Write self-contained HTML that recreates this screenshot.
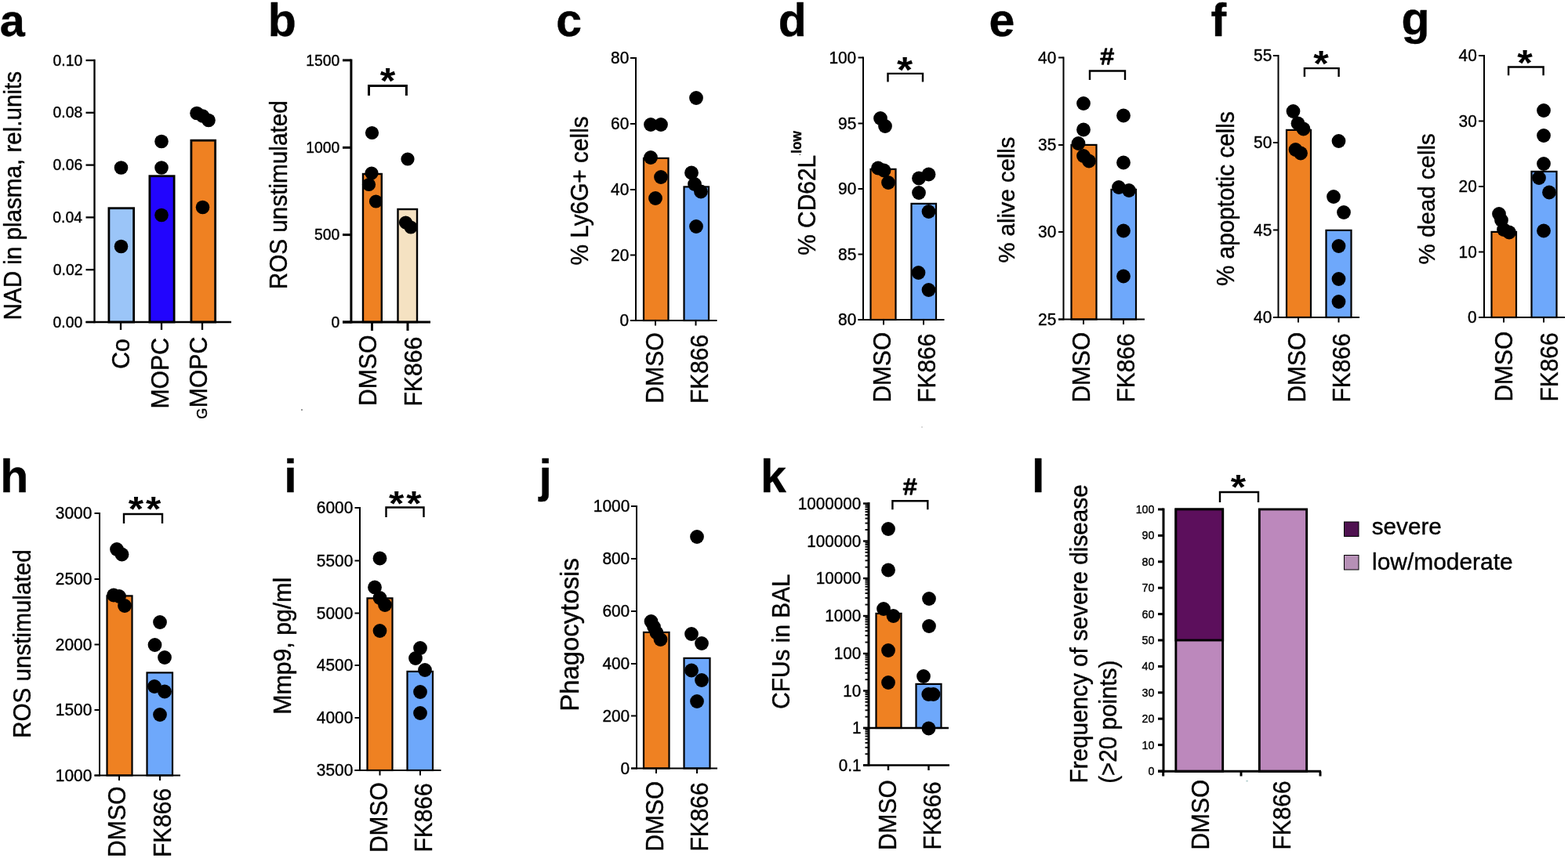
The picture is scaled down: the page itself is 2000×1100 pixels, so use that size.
<!DOCTYPE html>
<html lang="en"><head><meta charset="utf-8"><title>Figure</title>
<style>html,body{margin:0;padding:0;background:#fff}body{width:2000px;height:1100px;overflow:hidden}svg{display:block;filter:blur(0.45px)}text{stroke:#000;stroke-width:.4px;stroke-linejoin:round}</style>
</head><body>
<svg width="2000" height="1100" viewBox="0 0 2000 1100" font-family="&quot;Liberation Sans&quot;, sans-serif" fill="#000">
<rect x="138.9" y="265.7" width="31.7" height="145.3" fill="#9bc5f8" stroke="#000" stroke-width="2.8"/>
<rect x="190.9" y="224.7" width="31.2" height="186.3" fill="#2205fd" stroke="#000" stroke-width="2.8"/>
<rect x="243.9" y="179.2" width="30.7" height="231.8" fill="#ef8122" stroke="#000" stroke-width="2.8"/>
<path d="M120.5 75.85L120.5 412.15" stroke="#000" stroke-width="2.3" fill="none"/>
<path d="M109.5 411L295 411" stroke="#000" stroke-width="2.3" fill="none"/>
<path d="M109.5 77L120.5 77" stroke="#000" stroke-width="2.3" fill="none"/>
<text transform="translate(105.15 83.64) scale(0.955 1)" font-size="20.27" text-anchor="end">0.10</text>
<path d="M109.5 143.8L120.5 143.8" stroke="#000" stroke-width="2.3" fill="none"/>
<text transform="translate(105.25 150.44) scale(0.955 1)" font-size="20.27" text-anchor="end">0.08</text>
<path d="M109.5 210.6L120.5 210.6" stroke="#000" stroke-width="2.3" fill="none"/>
<text transform="translate(105.25 217.24) scale(0.955 1)" font-size="20.27" text-anchor="end">0.06</text>
<path d="M109.5 277.4L120.5 277.4" stroke="#000" stroke-width="2.3" fill="none"/>
<text transform="translate(104.96 284.04) scale(0.955 1)" font-size="20.27" text-anchor="end">0.04</text>
<path d="M109.5 344.2L120.5 344.2" stroke="#000" stroke-width="2.3" fill="none"/>
<text transform="translate(105.39 350.84) scale(0.955 1)" font-size="20.27" text-anchor="end">0.02</text>
<path d="M109.5 411L120.5 411" stroke="#000" stroke-width="2.3" fill="none"/>
<text transform="translate(105.15 417.64) scale(0.955 1)" font-size="20.27" text-anchor="end">0.00</text>
<path d="M154 411L154 421" stroke="#000" stroke-width="2.3" fill="none"/>
<path d="M206 411L206 421" stroke="#000" stroke-width="2.3" fill="none"/>
<path d="M258 411L258 421" stroke="#000" stroke-width="2.3" fill="none"/>
<circle cx="154.5" cy="214" r="8.8"/>
<circle cx="154.5" cy="314.5" r="8.8"/>
<circle cx="206" cy="180.5" r="8.8"/>
<circle cx="206" cy="214" r="8.8"/>
<circle cx="206" cy="274.5" r="8.8"/>
<circle cx="251" cy="144.5" r="8.8"/>
<circle cx="258.5" cy="148" r="8.8"/>
<circle cx="266" cy="153.5" r="8.8"/>
<circle cx="258.5" cy="264.5" r="8.8"/>
<text transform="translate(164.6 470.8) rotate(-90) scale(0.98 1)" font-size="30.8">Co</text>
<text transform="translate(215.2 521.6) rotate(-90) scale(0.98 1)" font-size="30.8">MOPC</text>
<text transform="translate(263.6 520.29) rotate(-90) scale(0.98 1)" font-size="30.8">MOPC</text>
<text transform="translate(26.8 408.43) rotate(-90) scale(0.97 1)" font-size="30.53">NAD in plasma, rel.units</text>
<text x="-0.16" y="46.2" font-size="57.5" font-weight="bold">a</text>
<rect x="463" y="222" width="23.8" height="189" fill="#ef8122" stroke="#000" stroke-width="2.4"/>
<rect x="507.5" y="267" width="24.5" height="144" fill="#f5e2c2" stroke="#000" stroke-width="2.4"/>
<path d="M447.9 75.4L447.9 412.5" stroke="#000" stroke-width="3" fill="none"/>
<path d="M437 411L549 411" stroke="#000" stroke-width="3" fill="none"/>
<path d="M437 76.9L447.9 76.9" stroke="#000" stroke-width="3" fill="none"/>
<text transform="translate(433.17 83.54) scale(0.955 1)" font-size="20.27" text-anchor="end">1500</text>
<path d="M437 188.3L447.9 188.3" stroke="#000" stroke-width="3" fill="none"/>
<text transform="translate(433.17 194.94) scale(0.955 1)" font-size="20.27" text-anchor="end">1000</text>
<path d="M437 299.6L447.9 299.6" stroke="#000" stroke-width="3" fill="none"/>
<text transform="translate(433.14 306.24) scale(0.955 1)" font-size="20.27" text-anchor="end">500</text>
<path d="M437 411L447.9 411" stroke="#000" stroke-width="3" fill="none"/>
<text transform="translate(433.15 417.64) scale(0.955 1)" font-size="20.27" text-anchor="end">0</text>
<path d="M474.5 411L474.5 422" stroke="#000" stroke-width="3" fill="none"/>
<path d="M520 411L520 422" stroke="#000" stroke-width="3" fill="none"/>
<path d="M470.5 122L470.5 109.4L518.4 109.4L518.4 122" stroke="#000" stroke-width="3" fill="none"/>
<text transform="translate(494.6 118.98) scale(1.1 1)" font-size="45.64" text-anchor="middle" font-weight="bold" style="stroke-width:0">*</text>
<circle cx="474.5" cy="169.5" r="8.6"/>
<circle cx="520" cy="203" r="8.6"/>
<circle cx="474" cy="221" r="8.6"/>
<circle cx="470.5" cy="235.5" r="8.6"/>
<circle cx="479.5" cy="257" r="8.6"/>
<circle cx="517.5" cy="284" r="8.6"/>
<circle cx="524" cy="290" r="8.6"/>
<text transform="translate(480.4 518.08) rotate(-90) scale(0.98 1)" font-size="30.8">DMSO</text>
<text transform="translate(537.6 518.58) rotate(-90) scale(0.98 1)" font-size="30.8">FK866</text>
<text transform="translate(366.2 369.24) rotate(-90) scale(0.97 1)" font-size="30.62">ROS unstimulated</text>
<text x="341.77" y="46.2" font-size="59" font-weight="bold">b</text>
<rect x="821" y="201.9" width="31.5" height="207.1" fill="#ef8122" stroke="#000" stroke-width="2.2"/>
<rect x="872.5" y="238.4" width="31.5" height="170.6" fill="#6ea8fb" stroke="#000" stroke-width="2.2"/>
<path d="M811 73L811 410" stroke="#000" stroke-width="2" fill="none"/>
<path d="M804 409L914.5 409" stroke="#000" stroke-width="2" fill="none"/>
<path d="M804 74L811 74" stroke="#000" stroke-width="2" fill="none"/>
<text transform="translate(802.23 81.16) scale(0.955 1)" font-size="21.84" text-anchor="end">80</text>
<path d="M804 158L811 158" stroke="#000" stroke-width="2" fill="none"/>
<text transform="translate(802.23 165.16) scale(0.955 1)" font-size="21.84" text-anchor="end">60</text>
<path d="M804 242L811 242" stroke="#000" stroke-width="2" fill="none"/>
<text transform="translate(802.23 249.16) scale(0.955 1)" font-size="21.84" text-anchor="end">40</text>
<path d="M804 325.5L811 325.5" stroke="#000" stroke-width="2" fill="none"/>
<text transform="translate(802.23 332.66) scale(0.955 1)" font-size="21.84" text-anchor="end">20</text>
<path d="M804 409L811 409" stroke="#000" stroke-width="2" fill="none"/>
<text transform="translate(802.2 416.16) scale(0.955 1)" font-size="21.84" text-anchor="end">0</text>
<path d="M836 409L836 415.5" stroke="#000" stroke-width="2" fill="none"/>
<path d="M887.5 409L887.5 415.5" stroke="#000" stroke-width="2" fill="none"/>
<circle cx="830" cy="159" r="8.9"/>
<circle cx="843" cy="159" r="8.9"/>
<circle cx="830" cy="201" r="8.9"/>
<circle cx="843" cy="226" r="8.9"/>
<circle cx="836" cy="253" r="8.9"/>
<circle cx="888" cy="125" r="8.9"/>
<circle cx="882" cy="220.5" r="8.9"/>
<circle cx="886" cy="235" r="8.9"/>
<circle cx="894" cy="244.5" r="8.9"/>
<circle cx="888" cy="289" r="8.9"/>
<text transform="translate(846.1 514.78) rotate(-90) scale(0.98 1)" font-size="30.8">DMSO</text>
<text transform="translate(902.9 514.97) rotate(-90) scale(0.97 1)" font-size="30.8">FK866</text>
<text transform="translate(750.1 338.54) rotate(-90) scale(0.97 1)" font-size="30.74">% Ly6G+ cells</text>
<text x="709.26" y="46.2" font-size="59" font-weight="bold">c</text>
<rect x="1110.5" y="215.9" width="32" height="192.1" fill="#ef8122" stroke="#000" stroke-width="2.2"/>
<rect x="1162.5" y="259.9" width="31.5" height="148.1" fill="#6ea8fb" stroke="#000" stroke-width="2.2"/>
<path d="M1101 72.5L1101 409" stroke="#000" stroke-width="2" fill="none"/>
<path d="M1094.5 408L1204.5 408" stroke="#000" stroke-width="2" fill="none"/>
<path d="M1094.5 73.5L1101 73.5" stroke="#000" stroke-width="2" fill="none"/>
<text transform="translate(1092.2 80.66) scale(0.955 1)" font-size="21.84" text-anchor="end">100</text>
<path d="M1094.5 157.5L1101 157.5" stroke="#000" stroke-width="2" fill="none"/>
<text transform="translate(1092.28 164.66) scale(0.955 1)" font-size="21.84" text-anchor="end">95</text>
<path d="M1094.5 241L1101 241" stroke="#000" stroke-width="2" fill="none"/>
<text transform="translate(1092.23 248.16) scale(0.955 1)" font-size="21.84" text-anchor="end">90</text>
<path d="M1094.5 324.5L1101 324.5" stroke="#000" stroke-width="2" fill="none"/>
<text transform="translate(1092.28 331.66) scale(0.955 1)" font-size="21.84" text-anchor="end">85</text>
<path d="M1094.5 408L1101 408" stroke="#000" stroke-width="2" fill="none"/>
<text transform="translate(1092.23 415.16) scale(0.955 1)" font-size="21.84" text-anchor="end">80</text>
<path d="M1127 408L1127 414.5" stroke="#000" stroke-width="2" fill="none"/>
<path d="M1178 408L1178 414.5" stroke="#000" stroke-width="2" fill="none"/>
<path d="M1132.5 104.6L1132.5 93.9L1177 93.9L1177 104.6" stroke="#000" stroke-width="2.4" fill="none"/>
<text transform="translate(1154 105.4) scale(1.1 1)" font-size="46.98" text-anchor="middle" font-weight="bold" style="stroke-width:0">*</text>
<circle cx="1123" cy="151" r="8.9"/>
<circle cx="1129" cy="161" r="8.9"/>
<circle cx="1120" cy="214.5" r="8.9"/>
<circle cx="1127.5" cy="217.5" r="8.9"/>
<circle cx="1133" cy="233" r="8.9"/>
<circle cx="1184.5" cy="222.5" r="8.9"/>
<circle cx="1172" cy="227.5" r="8.9"/>
<circle cx="1172" cy="246" r="8.9"/>
<circle cx="1184.5" cy="270" r="8.9"/>
<circle cx="1171.5" cy="348" r="8.9"/>
<circle cx="1184.5" cy="370" r="8.9"/>
<text transform="translate(1136.1 513.48) rotate(-90) scale(0.97 1)" font-size="30.8">DMSO</text>
<text transform="translate(1192.9 513.67) rotate(-90) scale(0.97 1)" font-size="30.8">FK866</text>
<text transform="translate(1039.7 325.84) rotate(-90) scale(0.97 1)" font-size="30.84">% CD62L</text>
<text x="992.74" y="46.2" font-size="59" font-weight="bold">d</text>
<rect x="1366.5" y="184.9" width="32" height="222.6" fill="#ef8122" stroke="#000" stroke-width="2.2"/>
<rect x="1417.5" y="241.9" width="31.5" height="165.6" fill="#6ea8fb" stroke="#000" stroke-width="2.2"/>
<path d="M1356.5 72.5L1356.5 408.5" stroke="#000" stroke-width="2" fill="none"/>
<path d="M1350 407.5L1460 407.5" stroke="#000" stroke-width="2" fill="none"/>
<path d="M1350 73.5L1356.5 73.5" stroke="#000" stroke-width="2" fill="none"/>
<text transform="translate(1347.23 80.66) scale(0.955 1)" font-size="21.84" text-anchor="end">40</text>
<path d="M1350 185L1356.5 185" stroke="#000" stroke-width="2" fill="none"/>
<text transform="translate(1347.28 192.16) scale(0.955 1)" font-size="21.84" text-anchor="end">35</text>
<path d="M1350 296L1356.5 296" stroke="#000" stroke-width="2" fill="none"/>
<text transform="translate(1347.23 303.16) scale(0.955 1)" font-size="21.84" text-anchor="end">30</text>
<path d="M1350 407.5L1356.5 407.5" stroke="#000" stroke-width="2" fill="none"/>
<text transform="translate(1347.28 414.66) scale(0.955 1)" font-size="21.84" text-anchor="end">25</text>
<path d="M1382 407.5L1382 414" stroke="#000" stroke-width="2" fill="none"/>
<path d="M1433 407.5L1433 414" stroke="#000" stroke-width="2" fill="none"/>
<path d="M1390 102L1390 90.5L1435 90.5L1435 102" stroke="#000" stroke-width="2.4" fill="none"/>
<text x="1403.84" y="82.4" font-size="30.36" style="stroke-width:1.4px">#</text>
<circle cx="1382" cy="132" r="8.9"/>
<circle cx="1382" cy="165.5" r="8.9"/>
<circle cx="1375.5" cy="183" r="8.9"/>
<circle cx="1382" cy="199" r="8.9"/>
<circle cx="1389" cy="205.5" r="8.9"/>
<circle cx="1433" cy="147.5" r="8.9"/>
<circle cx="1433" cy="207.5" r="8.9"/>
<circle cx="1427" cy="239" r="8.9"/>
<circle cx="1440" cy="243" r="8.9"/>
<circle cx="1433" cy="294.5" r="8.9"/>
<circle cx="1433" cy="352.5" r="8.9"/>
<text transform="translate(1389.5 513.47) rotate(-90) scale(0.97 1)" font-size="30.8">DMSO</text>
<text transform="translate(1447 513.46) rotate(-90) scale(0.97 1)" font-size="30.8">FK866</text>
<text transform="translate(1294.4 335.52) rotate(-90) scale(0.97 1)" font-size="30.16">% alive cells</text>
<text x="1261.41" y="46.2" font-size="59" font-weight="bold">e</text>
<rect x="1641" y="165.9" width="31" height="239.1" fill="#ef8122" stroke="#000" stroke-width="2.2"/>
<rect x="1691.5" y="293.9" width="32" height="111.1" fill="#6ea8fb" stroke="#000" stroke-width="2.2"/>
<path d="M1630.5 70L1630.5 406" stroke="#000" stroke-width="2" fill="none"/>
<path d="M1624 405L1734 405" stroke="#000" stroke-width="2" fill="none"/>
<path d="M1624 71L1630.5 71" stroke="#000" stroke-width="2" fill="none"/>
<text transform="translate(1622.28 78.16) scale(0.955 1)" font-size="21.84" text-anchor="end">55</text>
<path d="M1624 182L1630.5 182" stroke="#000" stroke-width="2" fill="none"/>
<text transform="translate(1622.23 189.16) scale(0.955 1)" font-size="21.84" text-anchor="end">50</text>
<path d="M1624 293.5L1630.5 293.5" stroke="#000" stroke-width="2" fill="none"/>
<text transform="translate(1622.28 300.66) scale(0.955 1)" font-size="21.84" text-anchor="end">45</text>
<path d="M1624 405L1630.5 405" stroke="#000" stroke-width="2" fill="none"/>
<text transform="translate(1622.23 412.16) scale(0.955 1)" font-size="21.84" text-anchor="end">40</text>
<path d="M1656 405L1656 411.5" stroke="#000" stroke-width="2" fill="none"/>
<path d="M1707.5 405L1707.5 411.5" stroke="#000" stroke-width="2" fill="none"/>
<path d="M1663.9 98L1663.9 87.1L1707.6 87.1L1707.6 98" stroke="#000" stroke-width="2.4" fill="none"/>
<text transform="translate(1685 97.28) scale(1.1 1)" font-size="45.64" text-anchor="middle" font-weight="bold" style="stroke-width:0">*</text>
<circle cx="1649.5" cy="142" r="8.9"/>
<circle cx="1655.5" cy="157.5" r="8.9"/>
<circle cx="1662.5" cy="164.5" r="8.9"/>
<circle cx="1652.5" cy="191" r="8.9"/>
<circle cx="1659" cy="195.5" r="8.9"/>
<circle cx="1707.5" cy="180" r="8.9"/>
<circle cx="1701" cy="251" r="8.9"/>
<circle cx="1714" cy="271" r="8.9"/>
<circle cx="1707.5" cy="314" r="8.9"/>
<circle cx="1707.5" cy="356" r="8.9"/>
<circle cx="1707.5" cy="385" r="8.9"/>
<text transform="translate(1664.5 513.47) rotate(-90) scale(0.97 1)" font-size="30.8">DMSO</text>
<text transform="translate(1722 513.46) rotate(-90) scale(0.97 1)" font-size="30.8">FK866</text>
<text transform="translate(1573.6 365.04) rotate(-90) scale(0.97 1)" font-size="30.63">% apoptotic cells</text>
<text x="1544.6" y="46.2" font-size="59" font-weight="bold">f</text>
<rect x="1902.5" y="295.9" width="31.5" height="109.1" fill="#ef8122" stroke="#000" stroke-width="2.2"/>
<rect x="1953.5" y="218.9" width="32" height="186.1" fill="#6ea8fb" stroke="#000" stroke-width="2.2"/>
<path d="M1893 70L1893 406" stroke="#000" stroke-width="2" fill="none"/>
<path d="M1886 405L1996 405" stroke="#000" stroke-width="2" fill="none"/>
<path d="M1886 71L1893 71" stroke="#000" stroke-width="2" fill="none"/>
<text transform="translate(1883.73 78.16) scale(0.955 1)" font-size="21.84" text-anchor="end">40</text>
<path d="M1886 154.5L1893 154.5" stroke="#000" stroke-width="2" fill="none"/>
<text transform="translate(1883.73 161.66) scale(0.955 1)" font-size="21.84" text-anchor="end">30</text>
<path d="M1886 238L1893 238" stroke="#000" stroke-width="2" fill="none"/>
<text transform="translate(1883.73 245.16) scale(0.955 1)" font-size="21.84" text-anchor="end">20</text>
<path d="M1886 321.5L1893 321.5" stroke="#000" stroke-width="2" fill="none"/>
<text transform="translate(1883.73 328.66) scale(0.955 1)" font-size="21.84" text-anchor="end">10</text>
<path d="M1886 405L1893 405" stroke="#000" stroke-width="2" fill="none"/>
<text transform="translate(1883.7 412.16) scale(0.955 1)" font-size="21.84" text-anchor="end">0</text>
<path d="M1918 405L1918 411.5" stroke="#000" stroke-width="2" fill="none"/>
<path d="M1969 405L1969 411.5" stroke="#000" stroke-width="2" fill="none"/>
<path d="M1924.1 96.3L1924.1 85.5L1968.6 85.5L1968.6 96.3" stroke="#000" stroke-width="2.4" fill="none"/>
<text transform="translate(1945 95.98) scale(1.1 1)" font-size="45.64" text-anchor="middle" font-weight="bold" style="stroke-width:0">*</text>
<circle cx="1912" cy="273" r="8.9"/>
<circle cx="1915" cy="281" r="8.9"/>
<circle cx="1918" cy="293" r="8.9"/>
<circle cx="1925" cy="296.5" r="8.9"/>
<circle cx="1969" cy="141" r="8.9"/>
<circle cx="1969" cy="173" r="8.9"/>
<circle cx="1969" cy="209" r="8.9"/>
<circle cx="1963" cy="227" r="8.9"/>
<circle cx="1976" cy="245.5" r="8.9"/>
<circle cx="1969" cy="294.5" r="8.9"/>
<text transform="translate(1929 512.46) rotate(-90) scale(0.97 1)" font-size="30.8">DMSO</text>
<text transform="translate(1986.5 512.46) rotate(-90) scale(0.97 1)" font-size="30.8">FK866</text>
<text transform="translate(1829.7 337.43) rotate(-90) scale(0.97 1)" font-size="30.42">% dead cells</text>
<text x="1787.49" y="44.2" font-size="59" font-weight="bold">g</text>
<rect x="136.5" y="760.4" width="32" height="229.1" fill="#ef8122" stroke="#000" stroke-width="2.2"/>
<rect x="187.5" y="858.4" width="32.5" height="131.1" fill="#6ea8fb" stroke="#000" stroke-width="2.2"/>
<path d="M127 654L127 990.5" stroke="#000" stroke-width="2" fill="none"/>
<path d="M120.5 989.5L230 989.5" stroke="#000" stroke-width="2" fill="none"/>
<path d="M120.5 655L127 655" stroke="#000" stroke-width="2" fill="none"/>
<text transform="translate(117.23 662.16) scale(0.955 1)" font-size="21.84" text-anchor="end">3000</text>
<path d="M120.5 739L127 739" stroke="#000" stroke-width="2" fill="none"/>
<text transform="translate(117.23 746.16) scale(0.955 1)" font-size="21.84" text-anchor="end">2500</text>
<path d="M120.5 822.5L127 822.5" stroke="#000" stroke-width="2" fill="none"/>
<text transform="translate(117.23 829.66) scale(0.955 1)" font-size="21.84" text-anchor="end">2000</text>
<path d="M120.5 906L127 906" stroke="#000" stroke-width="2" fill="none"/>
<text transform="translate(117.23 913.16) scale(0.955 1)" font-size="21.84" text-anchor="end">1500</text>
<path d="M120.5 989.5L127 989.5" stroke="#000" stroke-width="2" fill="none"/>
<text transform="translate(117.23 996.66) scale(0.955 1)" font-size="21.84" text-anchor="end">1000</text>
<path d="M152 989.5L152 996" stroke="#000" stroke-width="2" fill="none"/>
<path d="M204 989.5L204 996" stroke="#000" stroke-width="2" fill="none"/>
<path d="M158 668L158 656L207 656L207 668" stroke="#000" stroke-width="2.4" fill="none"/>
<text transform="translate(173.35 664.81) scale(1.1 1)" font-size="45.1" text-anchor="middle" font-weight="bold" style="stroke-width:0">*</text>
<text transform="translate(195.65 664.81) scale(1.1 1)" font-size="45.1" text-anchor="middle" font-weight="bold" style="stroke-width:0">*</text>
<circle cx="149" cy="701" r="8.9"/>
<circle cx="155.5" cy="707.5" r="8.9"/>
<circle cx="145" cy="759.5" r="8.9"/>
<circle cx="152" cy="761" r="8.9"/>
<circle cx="159" cy="773" r="8.9"/>
<circle cx="204" cy="794" r="8.9"/>
<circle cx="197.5" cy="823" r="8.9"/>
<circle cx="210" cy="839" r="8.9"/>
<circle cx="197" cy="876" r="8.9"/>
<circle cx="210" cy="882.5" r="8.9"/>
<circle cx="204" cy="912" r="8.9"/>
<text transform="translate(160 1093.99) rotate(-90) scale(0.98 1)" font-size="30.8">DMSO</text>
<text transform="translate(217.8 1093.96) rotate(-90) scale(0.97 1)" font-size="30.8">FK866</text>
<text transform="translate(38.5 942.04) rotate(-90) scale(0.97 1)" font-size="30.6">ROS unstimulated</text>
<text x="0.21" y="628" font-size="59" font-weight="bold">h</text>
<rect x="468.5" y="763.4" width="32" height="219.6" fill="#ef8122" stroke="#000" stroke-width="2.2"/>
<rect x="519.5" y="856.9" width="32.5" height="126.1" fill="#6ea8fb" stroke="#000" stroke-width="2.2"/>
<path d="M459 647L459 984" stroke="#000" stroke-width="2" fill="none"/>
<path d="M452.5 983L562.5 983" stroke="#000" stroke-width="2" fill="none"/>
<path d="M452.5 648L459 648" stroke="#000" stroke-width="2" fill="none"/>
<text transform="translate(450.23 655.16) scale(0.955 1)" font-size="21.84" text-anchor="end">6000</text>
<path d="M452.5 715.5L459 715.5" stroke="#000" stroke-width="2" fill="none"/>
<text transform="translate(450.23 722.66) scale(0.955 1)" font-size="21.84" text-anchor="end">5500</text>
<path d="M452.5 782.5L459 782.5" stroke="#000" stroke-width="2" fill="none"/>
<text transform="translate(450.23 789.66) scale(0.955 1)" font-size="21.84" text-anchor="end">5000</text>
<path d="M452.5 849L459 849" stroke="#000" stroke-width="2" fill="none"/>
<text transform="translate(450.23 856.16) scale(0.955 1)" font-size="21.84" text-anchor="end">4500</text>
<path d="M452.5 916L459 916" stroke="#000" stroke-width="2" fill="none"/>
<text transform="translate(450.23 923.16) scale(0.955 1)" font-size="21.84" text-anchor="end">4000</text>
<path d="M452.5 983L459 983" stroke="#000" stroke-width="2" fill="none"/>
<text transform="translate(450.23 990.16) scale(0.955 1)" font-size="21.84" text-anchor="end">3500</text>
<path d="M484.5 983L484.5 989.5" stroke="#000" stroke-width="2" fill="none"/>
<path d="M536 983L536 989.5" stroke="#000" stroke-width="2" fill="none"/>
<path d="M492.5 660L492.5 647.5L540.5 647.5L540.5 660" stroke="#000" stroke-width="2.4" fill="none"/>
<text transform="translate(505.65 658.31) scale(1.1 1)" font-size="45.1" text-anchor="middle" font-weight="bold" style="stroke-width:0">*</text>
<text transform="translate(527.95 658.31) scale(1.1 1)" font-size="45.1" text-anchor="middle" font-weight="bold" style="stroke-width:0">*</text>
<circle cx="484.5" cy="712.5" r="8.9"/>
<circle cx="478" cy="749.5" r="8.9"/>
<circle cx="484.5" cy="763" r="8.9"/>
<circle cx="491" cy="772" r="8.9"/>
<circle cx="484.5" cy="805" r="8.9"/>
<circle cx="536" cy="827" r="8.9"/>
<circle cx="530" cy="840" r="8.9"/>
<circle cx="542" cy="855" r="8.9"/>
<circle cx="536" cy="883" r="8.9"/>
<circle cx="536" cy="910" r="8.9"/>
<text transform="translate(494 1087.96) rotate(-90) scale(0.97 1)" font-size="30.8">DMSO</text>
<text transform="translate(551 1087.46) rotate(-90) scale(0.97 1)" font-size="30.8">FK866</text>
<text transform="translate(370.9 911.79) rotate(-90) scale(0.97 1)" font-size="31.22">Mmp9, pg/ml</text>
<text x="362.31" y="628" font-size="59" font-weight="bold">i</text>
<rect x="821" y="806.9" width="32.5" height="173.6" fill="#ef8122" stroke="#000" stroke-width="2.2"/>
<rect x="872.5" y="839.9" width="33" height="140.6" fill="#6ea8fb" stroke="#000" stroke-width="2.2"/>
<path d="M812 645L812 981.5" stroke="#000" stroke-width="2" fill="none"/>
<path d="M805 980.5L915 980.5" stroke="#000" stroke-width="2" fill="none"/>
<path d="M805 646L812 646" stroke="#000" stroke-width="2" fill="none"/>
<text transform="translate(803.23 653.16) scale(0.955 1)" font-size="21.84" text-anchor="end">1000</text>
<path d="M805 713L812 713" stroke="#000" stroke-width="2" fill="none"/>
<text transform="translate(803.2 720.16) scale(0.955 1)" font-size="21.84" text-anchor="end">800</text>
<path d="M805 780L812 780" stroke="#000" stroke-width="2" fill="none"/>
<text transform="translate(803.2 787.16) scale(0.955 1)" font-size="21.84" text-anchor="end">600</text>
<path d="M805 847L812 847" stroke="#000" stroke-width="2" fill="none"/>
<text transform="translate(803.2 854.16) scale(0.955 1)" font-size="21.84" text-anchor="end">400</text>
<path d="M805 913.5L812 913.5" stroke="#000" stroke-width="2" fill="none"/>
<text transform="translate(803.2 920.66) scale(0.955 1)" font-size="21.84" text-anchor="end">200</text>
<path d="M805 980.5L812 980.5" stroke="#000" stroke-width="2" fill="none"/>
<text transform="translate(803.2 987.66) scale(0.955 1)" font-size="21.84" text-anchor="end">0</text>
<path d="M837 980.5L837 987" stroke="#000" stroke-width="2" fill="none"/>
<path d="M889 980.5L889 987" stroke="#000" stroke-width="2" fill="none"/>
<circle cx="830.5" cy="793" r="8.9"/>
<circle cx="834" cy="800" r="8.9"/>
<circle cx="837.5" cy="807.5" r="8.9"/>
<circle cx="842.5" cy="816" r="8.9"/>
<circle cx="889" cy="685" r="8.9"/>
<circle cx="882" cy="809" r="8.9"/>
<circle cx="895" cy="821" r="8.9"/>
<circle cx="882" cy="855.5" r="8.9"/>
<circle cx="895" cy="868" r="8.9"/>
<circle cx="889" cy="895" r="8.9"/>
<text transform="translate(846 1086.47) rotate(-90) scale(0.97 1)" font-size="30.8">DMSO</text>
<text transform="translate(903 1086.46) rotate(-90) scale(0.97 1)" font-size="30.8">FK866</text>
<text transform="translate(738.4 907.7) rotate(-90) scale(0.97 1)" font-size="33.91">Phagocytosis</text>
<text x="687.57" y="628" font-size="59" font-weight="bold">j</text>
<rect x="1499.85" y="649.95" width="59.8" height="334.35" fill="#bc88bc" stroke="#000" stroke-width="2.9"/>
<rect x="1606.35" y="649.95" width="60.3" height="334.35" fill="#bc88bc" stroke="#000" stroke-width="2.9"/>
<path d="M1484 648.5L1484 985.8" stroke="#000" stroke-width="3" fill="none"/>
<path d="M1477 984.3L1685 984.3" stroke="#000" stroke-width="3" fill="none"/>
<path d="M1477 650L1484 650" stroke="#000" stroke-width="3" fill="none"/>
<text transform="translate(1472.55 654.92) scale(0.955 1)" font-size="15.02" text-anchor="end">100</text>
<path d="M1477 683.4L1484 683.4" stroke="#000" stroke-width="3" fill="none"/>
<text transform="translate(1472.57 688.32) scale(0.955 1)" font-size="15.02" text-anchor="end">90</text>
<path d="M1477 716.8L1484 716.8" stroke="#000" stroke-width="3" fill="none"/>
<text transform="translate(1472.57 721.72) scale(0.955 1)" font-size="15.02" text-anchor="end">80</text>
<path d="M1477 750.2L1484 750.2" stroke="#000" stroke-width="3" fill="none"/>
<text transform="translate(1472.57 755.12) scale(0.955 1)" font-size="15.02" text-anchor="end">70</text>
<path d="M1477 783.6L1484 783.6" stroke="#000" stroke-width="3" fill="none"/>
<text transform="translate(1472.57 788.52) scale(0.955 1)" font-size="15.02" text-anchor="end">60</text>
<path d="M1477 817L1484 817" stroke="#000" stroke-width="3" fill="none"/>
<text transform="translate(1472.57 821.92) scale(0.955 1)" font-size="15.02" text-anchor="end">50</text>
<path d="M1477 850.4L1484 850.4" stroke="#000" stroke-width="3" fill="none"/>
<text transform="translate(1472.57 855.32) scale(0.955 1)" font-size="15.02" text-anchor="end">40</text>
<path d="M1477 883.8L1484 883.8" stroke="#000" stroke-width="3" fill="none"/>
<text transform="translate(1472.57 888.72) scale(0.955 1)" font-size="15.02" text-anchor="end">30</text>
<path d="M1477 917.2L1484 917.2" stroke="#000" stroke-width="3" fill="none"/>
<text transform="translate(1472.57 922.12) scale(0.955 1)" font-size="15.02" text-anchor="end">20</text>
<path d="M1477 950.6L1484 950.6" stroke="#000" stroke-width="3" fill="none"/>
<text transform="translate(1472.57 955.52) scale(0.955 1)" font-size="15.02" text-anchor="end">10</text>
<path d="M1477 984L1484 984" stroke="#000" stroke-width="3" fill="none"/>
<text transform="translate(1472.55 988.92) scale(0.955 1)" font-size="15.02" text-anchor="end">0</text>
<path d="M1483.7 984.3L1483.7 990.5" stroke="#000" stroke-width="3" fill="none"/>
<path d="M1583 984.3L1583 990.5" stroke="#000" stroke-width="3" fill="none"/>
<path d="M1684 984.3L1684 990.5" stroke="#000" stroke-width="3" fill="none"/>
<path d="M1556 641L1556 628L1605 628L1605 641" stroke="#000" stroke-width="2.4" fill="none"/>
<text transform="translate(1579.3 637.11) scale(1.1 1)" font-size="45.1" text-anchor="middle" font-weight="bold" style="stroke-width:0">*</text>
<text transform="translate(1542 1084.47) rotate(-90) scale(0.97 1)" font-size="30.8">DMSO</text>
<text transform="translate(1645.5 1084.46) rotate(-90) scale(0.97 1)" font-size="30.8">FK866</text>
<text transform="translate(1387 999.44) rotate(-90) scale(0.97 1)" font-size="30.61">Frequency of severe disease</text>
<text x="1316.11" y="628" font-size="59" font-weight="bold">l</text>
<text transform="translate(263.6 534.81) rotate(-90) scale(0.99 1)" font-size="18.5">G</text>
<text transform="translate(1022 195.71) rotate(-90) scale(0.97 1)" font-size="17.73" font-weight="bold">low</text>
<circle cx="1020.3" cy="197.3" r="0.8" fill="#333"/>
<rect x="1499.85" y="649.95" width="59.8" height="167.05" fill="#5c0f5c" stroke="#000" stroke-width="2.9"/>
<text transform="translate(1424.3 999.85) rotate(-90) scale(0.97 1)" font-size="30.56">(&gt;20 points)</text>
<rect x="1714.5" y="666" width="18.5" height="18.5" fill="#4f1250" stroke="#000" stroke-width="1"/>
<rect x="1714.5" y="708.5" width="18.5" height="18.5" fill="#b690b6" stroke="#000" stroke-width="1"/>
<text transform="translate(1749.68 682)" font-size="29.69">severe</text>
<text transform="translate(1749.98 727)" font-size="29.95">low/moderate</text>
<circle cx="385" cy="523" r="1" fill="#777"/>
<circle cx="1176" cy="545" r="0.7" fill="#999"/>
<ellipse cx="1590.6" cy="996.7" rx="1.4" ry="0.6" fill="#9bb"/>
<rect x="1117.5" y="782.9" width="32" height="146.1" fill="#ef8122" stroke="#000" stroke-width="2.2"/>
<rect x="1168.5" y="872.9" width="32" height="56.1" fill="#6ea8fb" stroke="#000" stroke-width="2.2"/>
<path d="M1108 641L1108 978" stroke="#000" stroke-width="3" fill="none"/>
<path d="M1101 976.5L1211 976.5" stroke="#000" stroke-width="2.6" fill="none"/>
<path d="M1101 929L1210 929" stroke="#000" stroke-width="2.4" fill="none"/>
<path d="M1101 642.5L1108 642.5" stroke="#000" stroke-width="2.4" fill="none"/>
<text transform="translate(1098.19 649.59) scale(0.955 1)" font-size="21.63" text-anchor="end">1000000</text>
<path d="M1103.5 676.05L1108 676.05" stroke="#000" stroke-width="1.9" fill="none"/>
<path d="M1103.5 667.6L1108 667.6" stroke="#000" stroke-width="1.9" fill="none"/>
<path d="M1103.5 661.6L1108 661.6" stroke="#000" stroke-width="1.9" fill="none"/>
<path d="M1103.5 656.95L1108 656.95" stroke="#000" stroke-width="1.9" fill="none"/>
<path d="M1103.5 653.15L1108 653.15" stroke="#000" stroke-width="1.9" fill="none"/>
<path d="M1103.5 649.94L1108 649.94" stroke="#000" stroke-width="1.9" fill="none"/>
<path d="M1103.5 647.15L1108 647.15" stroke="#000" stroke-width="1.9" fill="none"/>
<path d="M1103.5 644.7L1108 644.7" stroke="#000" stroke-width="1.9" fill="none"/>
<path d="M1101 690.5L1108 690.5" stroke="#000" stroke-width="2.4" fill="none"/>
<text transform="translate(1098.21 697.59) scale(0.955 1)" font-size="21.63" text-anchor="end">100000</text>
<path d="M1103.5 723.7L1108 723.7" stroke="#000" stroke-width="1.9" fill="none"/>
<path d="M1103.5 715.34L1108 715.34" stroke="#000" stroke-width="1.9" fill="none"/>
<path d="M1103.5 709.4L1108 709.4" stroke="#000" stroke-width="1.9" fill="none"/>
<path d="M1103.5 704.8L1108 704.8" stroke="#000" stroke-width="1.9" fill="none"/>
<path d="M1103.5 701.04L1108 701.04" stroke="#000" stroke-width="1.9" fill="none"/>
<path d="M1103.5 697.86L1108 697.86" stroke="#000" stroke-width="1.9" fill="none"/>
<path d="M1103.5 695.1L1108 695.1" stroke="#000" stroke-width="1.9" fill="none"/>
<path d="M1103.5 692.67L1108 692.67" stroke="#000" stroke-width="1.9" fill="none"/>
<path d="M1101 738L1108 738" stroke="#000" stroke-width="2.4" fill="none"/>
<text transform="translate(1098.19 745.09) scale(0.955 1)" font-size="21.63" text-anchor="end">10000</text>
<path d="M1103.5 771.55L1108 771.55" stroke="#000" stroke-width="1.9" fill="none"/>
<path d="M1103.5 763.1L1108 763.1" stroke="#000" stroke-width="1.9" fill="none"/>
<path d="M1103.5 757.1L1108 757.1" stroke="#000" stroke-width="1.9" fill="none"/>
<path d="M1103.5 752.45L1108 752.45" stroke="#000" stroke-width="1.9" fill="none"/>
<path d="M1103.5 748.65L1108 748.65" stroke="#000" stroke-width="1.9" fill="none"/>
<path d="M1103.5 745.44L1108 745.44" stroke="#000" stroke-width="1.9" fill="none"/>
<path d="M1103.5 742.65L1108 742.65" stroke="#000" stroke-width="1.9" fill="none"/>
<path d="M1103.5 740.2L1108 740.2" stroke="#000" stroke-width="1.9" fill="none"/>
<path d="M1101 786L1108 786" stroke="#000" stroke-width="2.4" fill="none"/>
<text transform="translate(1098.22 793.09) scale(0.955 1)" font-size="21.63" text-anchor="end">1000</text>
<path d="M1103.5 819.55L1108 819.55" stroke="#000" stroke-width="1.9" fill="none"/>
<path d="M1103.5 811.1L1108 811.1" stroke="#000" stroke-width="1.9" fill="none"/>
<path d="M1103.5 805.1L1108 805.1" stroke="#000" stroke-width="1.9" fill="none"/>
<path d="M1103.5 800.45L1108 800.45" stroke="#000" stroke-width="1.9" fill="none"/>
<path d="M1103.5 796.65L1108 796.65" stroke="#000" stroke-width="1.9" fill="none"/>
<path d="M1103.5 793.44L1108 793.44" stroke="#000" stroke-width="1.9" fill="none"/>
<path d="M1103.5 790.65L1108 790.65" stroke="#000" stroke-width="1.9" fill="none"/>
<path d="M1103.5 788.2L1108 788.2" stroke="#000" stroke-width="1.9" fill="none"/>
<path d="M1101 834L1108 834" stroke="#000" stroke-width="2.4" fill="none"/>
<text transform="translate(1098.19 841.09) scale(0.955 1)" font-size="21.63" text-anchor="end">100</text>
<path d="M1103.5 867.2L1108 867.2" stroke="#000" stroke-width="1.9" fill="none"/>
<path d="M1103.5 858.84L1108 858.84" stroke="#000" stroke-width="1.9" fill="none"/>
<path d="M1103.5 852.9L1108 852.9" stroke="#000" stroke-width="1.9" fill="none"/>
<path d="M1103.5 848.3L1108 848.3" stroke="#000" stroke-width="1.9" fill="none"/>
<path d="M1103.5 844.54L1108 844.54" stroke="#000" stroke-width="1.9" fill="none"/>
<path d="M1103.5 841.36L1108 841.36" stroke="#000" stroke-width="1.9" fill="none"/>
<path d="M1103.5 838.6L1108 838.6" stroke="#000" stroke-width="1.9" fill="none"/>
<path d="M1103.5 836.17L1108 836.17" stroke="#000" stroke-width="1.9" fill="none"/>
<path d="M1101 881.5L1108 881.5" stroke="#000" stroke-width="2.4" fill="none"/>
<text transform="translate(1098.22 888.59) scale(0.955 1)" font-size="21.63" text-anchor="end">10</text>
<path d="M1103.5 914.7L1108 914.7" stroke="#000" stroke-width="1.9" fill="none"/>
<path d="M1103.5 906.34L1108 906.34" stroke="#000" stroke-width="1.9" fill="none"/>
<path d="M1103.5 900.4L1108 900.4" stroke="#000" stroke-width="1.9" fill="none"/>
<path d="M1103.5 895.8L1108 895.8" stroke="#000" stroke-width="1.9" fill="none"/>
<path d="M1103.5 892.04L1108 892.04" stroke="#000" stroke-width="1.9" fill="none"/>
<path d="M1103.5 888.86L1108 888.86" stroke="#000" stroke-width="1.9" fill="none"/>
<path d="M1103.5 886.1L1108 886.1" stroke="#000" stroke-width="1.9" fill="none"/>
<path d="M1103.5 883.67L1108 883.67" stroke="#000" stroke-width="1.9" fill="none"/>
<path d="M1101 929L1108 929" stroke="#000" stroke-width="2.4" fill="none"/>
<text transform="translate(1098.4 936.09) scale(0.955 1)" font-size="21.63" text-anchor="end">1</text>
<path d="M1103.5 962.2L1108 962.2" stroke="#000" stroke-width="1.9" fill="none"/>
<path d="M1103.5 953.84L1108 953.84" stroke="#000" stroke-width="1.9" fill="none"/>
<path d="M1103.5 947.9L1108 947.9" stroke="#000" stroke-width="1.9" fill="none"/>
<path d="M1103.5 943.3L1108 943.3" stroke="#000" stroke-width="1.9" fill="none"/>
<path d="M1103.5 939.54L1108 939.54" stroke="#000" stroke-width="1.9" fill="none"/>
<path d="M1103.5 936.36L1108 936.36" stroke="#000" stroke-width="1.9" fill="none"/>
<path d="M1103.5 933.6L1108 933.6" stroke="#000" stroke-width="1.9" fill="none"/>
<path d="M1103.5 931.17L1108 931.17" stroke="#000" stroke-width="1.9" fill="none"/>
<path d="M1101 976.5L1108 976.5" stroke="#000" stroke-width="2.4" fill="none"/>
<text transform="translate(1098.38 983.59) scale(0.955 1)" font-size="21.63" text-anchor="end">0.1</text>
<path d="M1133 976.5L1133 983" stroke="#000" stroke-width="2.4" fill="none"/>
<path d="M1184.5 976.5L1184.5 983" stroke="#000" stroke-width="2.4" fill="none"/>
<path d="M1138.4 650.3L1138.4 639.3L1183.3 639.3L1183.3 650.3" stroke="#000" stroke-width="2.4" fill="none"/>
<text x="1152.34" y="630.9" font-size="30.36" style="stroke-width:1.4px">#</text>
<circle cx="1133" cy="675" r="8.9"/>
<circle cx="1133" cy="727.5" r="8.9"/>
<circle cx="1127" cy="777" r="8.9"/>
<circle cx="1139.5" cy="786" r="8.9"/>
<circle cx="1133" cy="830" r="8.9"/>
<circle cx="1133" cy="871" r="8.9"/>
<circle cx="1185" cy="764" r="8.9"/>
<circle cx="1185" cy="799" r="8.9"/>
<circle cx="1178" cy="863" r="8.9"/>
<circle cx="1184.3" cy="886" r="8.9"/>
<circle cx="1190.5" cy="886" r="8.9"/>
<circle cx="1184.5" cy="929.5" r="8.9"/>
<text transform="translate(1142.5 1084.96) rotate(-90) scale(0.97 1)" font-size="30.8">DMSO</text>
<text transform="translate(1200 1084.43) rotate(-90) scale(0.96 1)" font-size="30.8">FK866</text>
<text transform="translate(1007 904.69) rotate(-90) scale(0.97 1)" font-size="30.75">CFUs in BAL</text>
<text x="969.99" y="628" font-size="59" font-weight="bold">k</text>
</svg>
</body></html>
